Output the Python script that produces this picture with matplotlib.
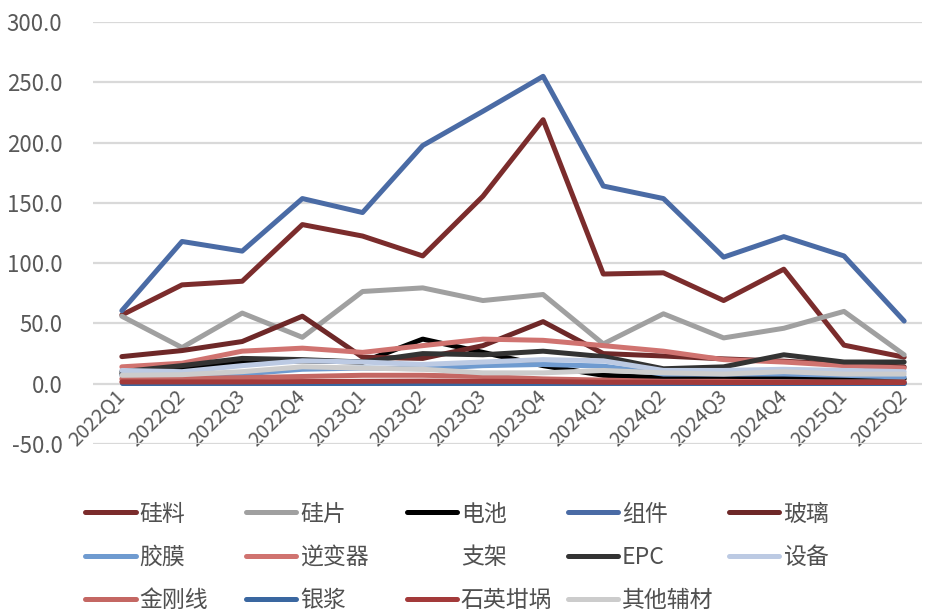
import numpy as np
import matplotlib
matplotlib.use('Agg')
import matplotlib.pyplot as plt
from matplotlib.lines import Line2D

plt.rcParams['font.family'] = ['Noto Sans CJK SC', 'DejaVu Sans']

quarters = ['2022Q1', '2022Q2', '2022Q3', '2022Q4', '2023Q1', '2023Q2', '2023Q3',
            '2023Q4', '2024Q1', '2024Q2', '2024Q3', '2024Q4', '2025Q1', '2025Q2']

silicon   = [57, 82, 85, 132, 122.5, 106, 155.5, 219, 91, 92, 69, 95, 32, 22]
wafer     = [56, 30, 58.6, 38.5, 76.5, 79.5, 69, 74, 33, 58, 38, 46, 60, 24]
cell      = [8, 12.4, 18, 19, 18, 37, 26, 15, 7, 5, 5.5, 5.5, 5, 4]
module    = [60.6, 118, 110, 153.6, 142, 197.6, 226, 255, 164, 153.6, 105, 122, 106, 52]
glass     = [22.5, 27.5, 35, 56, 22, 21, 31.6, 51.5, 25, 23, 20.6, 18.7, 16, 14]
film      = [7, 7.5, 8, 12, 13, 12.4, 15, 16, 14.6, 8, 8, 8, 7, 5.5]
inverter  = [14, 17, 27, 29.5, 26, 31.6, 37, 36, 31.6, 27, 20, 18, 15, 13]
bracket   = [np.nan] * 14
epc       = [10, 15, 21, 20, 18, 25, 24, 27, 22.5, 12.4, 14, 24, 18, 18]
equipment = [11, 10, 15, 19, 18, 16, 18, 20, 19, 11, 11, 12, 11, 10]
wire      = [4, 4.5, 5, 6, 7, 7, 6, 4, 3, 2, 2, 1.5, 1.5, 1.5]
paste     = [0.8, 0.8, 0.8, 0.8, 0.8, 0.8, 0.8, 0.8, 0.8, 0.8, 0.8, 0.8, 0.8, 0.8]
crucible  = [1.5, 1.5, 1.5, 1.8, 2, 2.2, 2, 1.8, 1.2, 1.2, 1, 1, 1, 1]
others    = [7, 7.5, 10, 14, 13, 12, 9, 9, 11, 9, 8, 10, 8, 8]

names = ['硅料', '硅片', '电池', '组件', '玻璃', '胶膜', '逆变器', '支架', 'EPC', '设备',
         '金刚线', '银浆', '石英坩埚', '其他辅材']
series = [silicon, wafer, cell, module, glass, film, inverter, bracket, epc, equipment,
          wire, paste, crucible, others]
colors = ['#7B2C2C', '#A0A0A0', '#000000', '#4A6BA5', '#6E2828', '#6F9BD0', '#D07370',
          'none', '#333333', '#BCCAE3', '#C46763', '#3A67A0', '#A33A3A', '#CCCCCC']

fig = plt.figure(figsize=(9.25, 6.13), dpi=100)
ax = fig.add_axes([0.1005, 0.2757, 0.8965, 0.6883])

x = np.arange(len(quarters))
for vals, c in zip(series, colors):
    ax.plot(x, vals, color=c, lw=3.6, solid_joinstyle='round', solid_capstyle='round')

for s in ax.spines.values():
    s.set_visible(False)
# category labels sit at the zero line, like excel
ax.spines['bottom'].set_position(('data', 0))

ax.set_ylim(-50, 300)
ax.set_yticks(np.arange(-50, 301, 50))
ax.set_yticklabels(['%.1f' % v for v in np.arange(-50, 301, 50)])
ax.set_xlim(-0.48, 13.3)
ax.set_xticks(x)
ax.set_xticklabels(quarters, rotation=45, ha='right', va='center', rotation_mode='anchor')
ax.tick_params(axis='y', length=0, labelsize=16, colors='#595959', pad=22)
ax.tick_params(axis='x', length=0, labelsize=14.5, colors='#595959', pad=7)
ax.grid(axis='y', color='#D9D9D9', lw=1.6)
ax.set_axisbelow(True)

# legend laid out like excel: fixed cells, row by row
for i, (n, c) in enumerate(zip(names, colors)):
    row, col = divmod(i, 5)
    h = Line2D([], [], color=c, lw=3.6, solid_capstyle='round')
    fig.legend([h], [n], loc='center left',
               bbox_to_anchor=(0.092 + col * 0.174, 0.1615 - row * 0.0705),
               frameon=False, fontsize=16.5, handlelength=2.2, handletextpad=0.15,
               borderpad=0, borderaxespad=0, labelcolor='#505050')

fig.savefig('out.png', dpi=100)
